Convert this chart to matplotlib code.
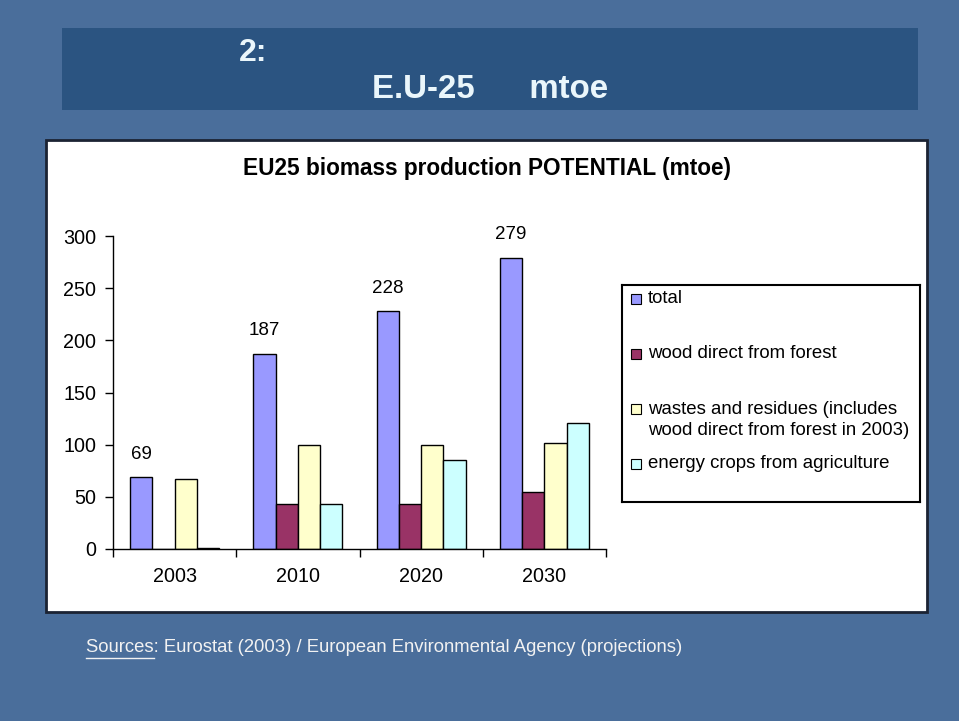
import matplotlib.pyplot as plt
from matplotlib.patches import Rectangle
import numpy as np

years = ['2003', '2010', '2020', '2030']
series = ['total', 'wood direct from forest',
          'wastes and residues (includes\nwood direct from forest in 2003)',
          'energy crops from agriculture']
values = [
    [69, 187, 228, 279],   # total
    [0, 43, 43, 55],       # wood direct from forest
    [67, 100, 100, 102],   # wastes and residues
    [1, 43, 85, 121],      # energy crops
]
colors = ['#9999FF', '#993366', '#FFFFCC', '#CCFFFF']
yticks = [0, 50, 100, 150, 200, 250, 300]

W, H = 959, 721
def fx(x): return x / W
def fy(y): return 1 - y / H

plt.rcParams['font.family'] = ['Liberation Sans', 'DejaVu Sans']
fig = plt.figure(figsize=(9.59, 7.21), dpi=100)
fig.patch.set_facecolor('#4A6E9B')

# slide title box
fig.patches.append(Rectangle((fx(62), fy(110)), fx(918) - fx(62), fy(28) - fy(110),
                             transform=fig.transFigure, facecolor='#2B5481',
                             edgecolor='none', zorder=-10))
fig.text(fx(253), fy(53), '2:', color='#EAF6FB', fontsize=23, fontweight='bold',
         ha='center', va='center', family=['Liberation Sans Narrow', 'Liberation Sans'])
fig.text(fx(490), fy(89), 'E.U-25      mtoe', color='#EAF6FB', fontsize=23.8, fontweight='bold',
         ha='center', va='center', family=['Liberation Sans Narrow', 'Liberation Sans'])

# white chart panel
fig.patches.append(Rectangle((fx(46), fy(612)), fx(927) - fx(46), fy(140) - fy(612),
                             transform=fig.transFigure, facecolor='white',
                             edgecolor='#1B2333', linewidth=2, zorder=-10))
fig.text(fx(487), fy(168), 'EU25 biomass production POTENTIAL (mtoe)',
         fontsize=16.3, fontweight='bold', ha='center', va='center')

ax = fig.add_axes([fx(113), fy(549), fx(606) - fx(113), fy(236) - fy(549)])
ax.set_facecolor('none')
x = np.arange(len(years))
w = 0.181
for i, (name, vals, c) in enumerate(zip(series, values, colors)):
    bars = ax.bar(x + (i - 1.5) * w, vals, w, color=c, edgecolor='black', linewidth=1)
    if i == 0:
        for b, v in zip(bars, vals):
            ax.annotate(str(v), (b.get_x() + b.get_width() / 2, v), xytext=(0, 23),
                        textcoords='offset pixels', ha='center', va='center', fontsize=13.5)

ax.set_xlim(-0.5, 3.5)
ax.set_ylim(0, 300)
ax.set_yticks(yticks)
ax.set_yticklabels([str(t) for t in yticks], fontsize=14.2)
ax.set_xticks(x)
ax.set_xticklabels(years, fontsize=14.2)
ax.set_xticks(np.arange(-0.5, 4, 1), minor=True)
ax.tick_params(axis='x', which='major', length=0, pad=13)
ax.tick_params(axis='x', which='minor', length=6, width=1, direction='out')
ax.tick_params(axis='y', length=6, width=1, direction='out', pad=6)
for s in ['top', 'right']:
    ax.spines[s].set_visible(False)
for s in ['left', 'bottom']:
    ax.spines[s].set_linewidth(1)

# legend box
lax = fig.add_axes([fx(622), fy(502), fx(920) - fx(622), fy(285) - fy(502)])
lax.set_xlim(622, 920)
lax.set_ylim(502, 285)
lax.set_xticks([])
lax.set_yticks([])
for s in lax.spines.values():
    s.set_linewidth(1.5)
entry_y = [298, 353, 408, 463]
line_gap = 24
for name, c, yy in zip(series, colors, entry_y):
    lax.add_patch(Rectangle((631, yy - 4), 10, 10, facecolor=c, edgecolor='black', linewidth=0.8))
    n = name.count('\n')
    lax.text(648, yy + n * line_gap / 2, name, fontsize=13.4, ha='left', va='center',
             linespacing=1.28)

# sources line
fig.text(fx(86), fy(648), 'Sources: Eurostat (2003) / European Environmental Agency (projections)',
         color='#F2F2F2', fontsize=13.3, ha='left', va='center')
fig.add_artist(plt.Line2D([fx(86), fx(154)], [fy(658), fy(658)], color='#F2F2F2',
                          linewidth=1, transform=fig.transFigure))

fig.savefig('out.png', dpi=100, facecolor=fig.get_facecolor())
